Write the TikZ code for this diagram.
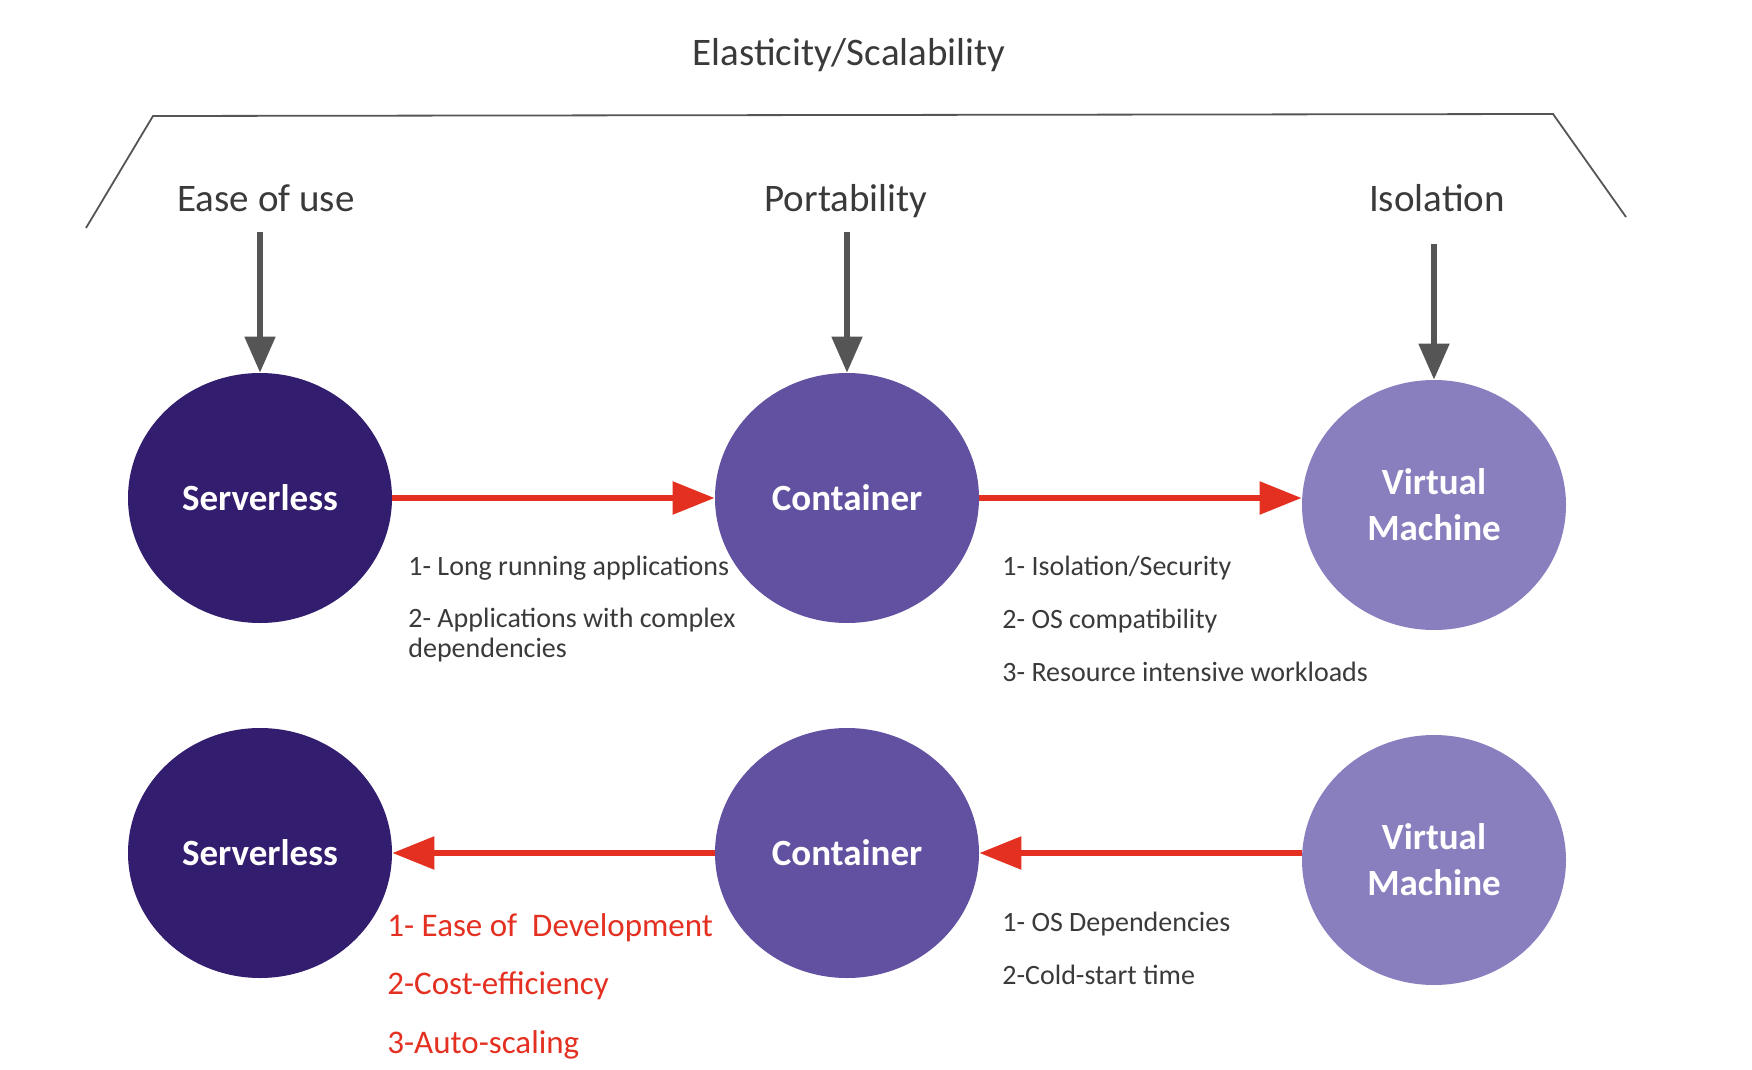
\documentclass[tikz,border=0pt]{standalone}
\usepackage{fontspec}
\setmainfont{Carlito}
\usetikzlibrary{positioning}
\usetikzlibrary{shapes.geometric}
\usetikzlibrary{arrows.meta}
\definecolor{slcol}{RGB}{51,29,110}
\definecolor{ctcol}{RGB}{98,80,160}
\definecolor{vmcol}{RGB}{138,127,190}
\definecolor{arrred}{RGB}{227,48,33}
\definecolor{arrgray}{RGB}{85,85,85}
\definecolor{txtgray}{RGB}{58,58,58}
\tikzset{tech/.style={ellipse, minimum width=132pt, minimum height=125pt, inner sep=0pt, text=white, align=center, font=\fontsize{18.5}{23}\selectfont\bfseries}}
\tikzset{hdr/.style={anchor=base, inner sep=0pt, text depth=0pt, text=txtgray, font=\fontsize{19.5}{23}\selectfont}}
\tikzset{note/.style={anchor=base west, inner sep=0pt, text=txtgray, align=left, font=\fontsize{14}{15}\selectfont}}
\tikzset{rnote/.style={note, text=arrred, font=\fontsize{16.5}{18}\selectfont}}
\tikzset{flow/.style={draw=arrred, line width=2.8pt, -{Triangle[length=21pt,width=16pt]}}}
\tikzset{down/.style={draw=arrgray, line width=2.6pt, shorten <=10pt, -{Triangle[length=18pt,width=15pt]}}}
\tikzset{brace/.style={draw=arrgray, line width=0.9pt}}

\begin{document}
\begin{tikzpicture}[x=0.5pt, y=-0.5pt]
\useasboundingbox (0,0) rectangle (1752,1070);

% headings
\node[hdr] (title) at (849,66) {Elasticity/Scalability};
\node[hdr] (ease) at (266,212) {Ease of use};
\node[hdr] (port) at (846,212) {Portability};
\node[hdr] (iso) at (1437,212) {Isolation};

\draw[brace] (86,228) -- (153,116) -- (1553,114) -- (1626,217);

% upper row
\node[tech, fill=slcol] (sl1) at (260,498) {Serverless};
\node[tech, fill=ctcol] (ct1) at (847,498) {Container};
\node[tech, fill=vmcol] (vm1) at (1434,505) {Virtual\\Machine};

% lower row
\node[tech, fill=slcol] (sl2) at (260,853) {Serverless};
\node[tech, fill=ctcol] (ct2) at (847,853) {Container};
\node[tech, fill=vmcol] (vm2) at (1434,860) {Virtual\\Machine};

\draw[down] (sl1.north |- ease.south) -- (sl1.north);
\draw[down] (ct1.north |- port.south) -- (ct1.north);
\draw[down, shorten <=16pt] (vm1.north |- iso.south) -- (vm1.north);

\draw[flow] (sl1.east) -- (ct1.west);
\draw[flow] (ct1.east) -- (vm1.west |- ct1.east);
\draw[flow] (ct2.west) -- (sl2.east);
\draw[flow] (vm2.west |- ct2.east) -- (ct2.east);

% reasons
\node[note] (n1) at (408,575) {1- Long running applications};
\node[note] (n2) at (408,657) {2- Applications with complex\\dependencies};
\node[note] (m1) at (1002,575) {1- Isolation/Security};
\node[note] (m2) at (1002,628) {2- OS compatibility};
\node[note] (m3) at (1002,681) {3- Resource intensive workloads};

\node[rnote] (r1) at (387,936) {1- Ease of\ \ Development};
\node[rnote] (r2) at (387,994) {2-Cost-efficiency};
\node[rnote] (r3) at (387,1053) {3-Auto-scaling};
\node[note] (d1) at (1002,931) {1- OS Dependencies};
\node[note] (d2) at (1002,984) {2-Cold-start time};
\end{tikzpicture}
\end{document}
